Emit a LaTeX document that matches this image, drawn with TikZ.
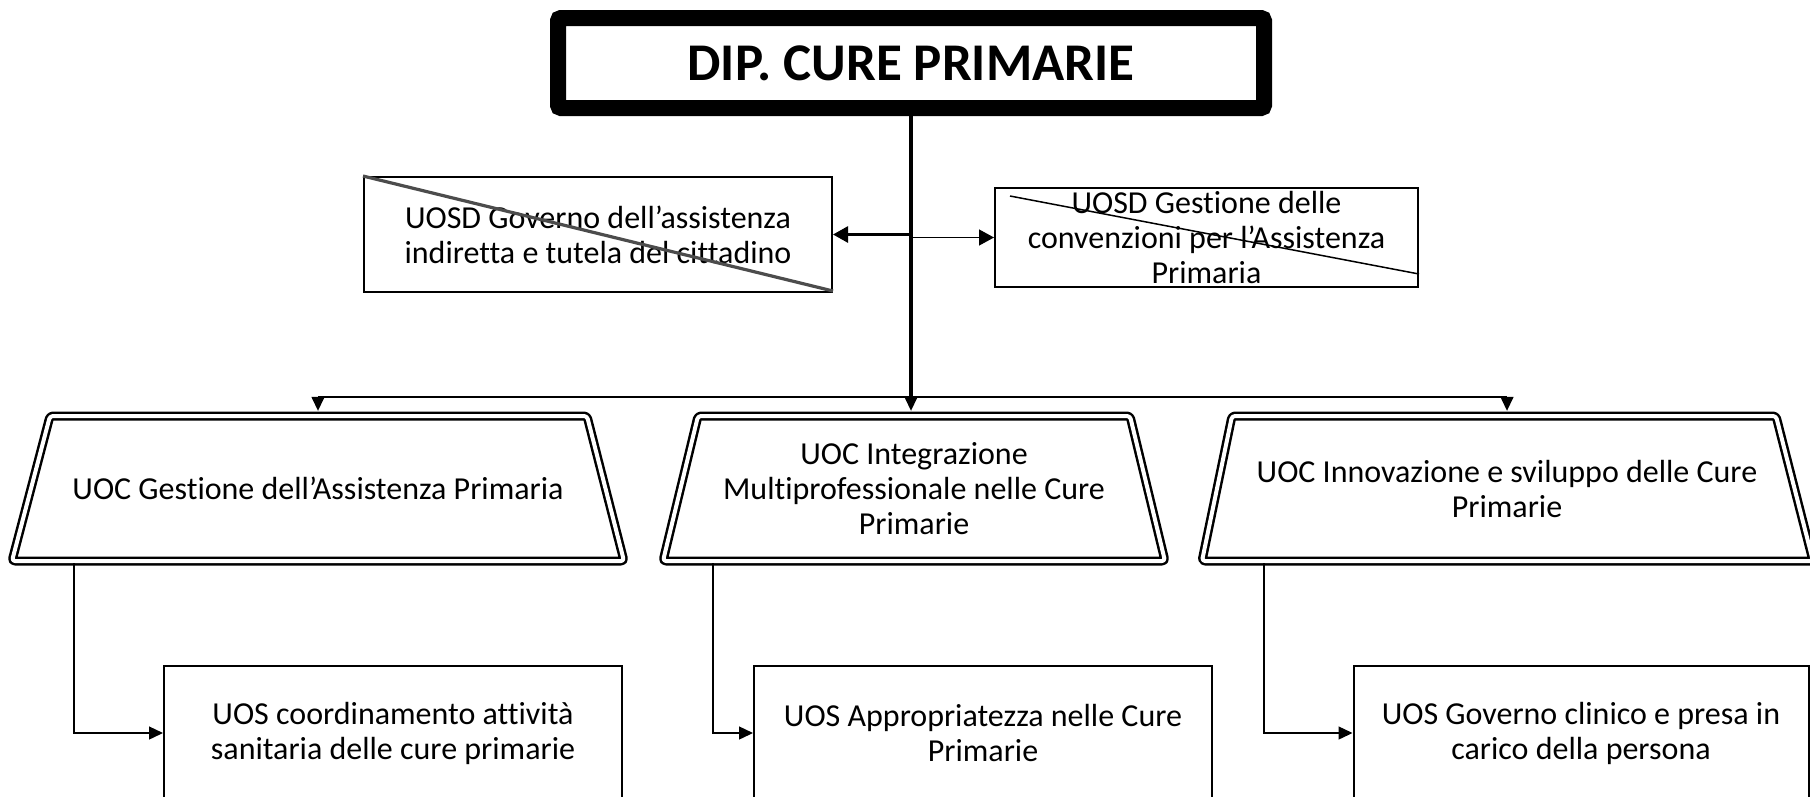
\documentclass[tikz,border=0pt]{standalone}
\usepackage{fontspec}
\setmainfont{Carlito}[Ligatures={NoCommon}]
\usetikzlibrary{arrows.meta,calc}
\begin{document}
\begin{tikzpicture}[x=1pt,y=-1pt,
  boxtxt/.style={font=\fontsize{32}{35}\selectfont, align=center},
  plainbox/.style={boxtxt, draw, line width=2pt, inner sep=0pt},
  traptext/.style={boxtxt, inner sep=0pt, minimum height=155pt},
  dbl/.style={draw, double, double distance=4pt, line width=2.5pt, rounded corners=3pt, line join=round},
  conn/.style={line width=1.4pt, -{Triangle[length=14pt,width=13pt]}},
  heavy/.style={line width=2.8pt, -{Triangle[length=15pt,width=16pt]}},
  light/.style={line width=1.3pt, -{Triangle[length=15pt,width=16pt]}}
]
\useasboundingbox (0,0) rectangle (1810,796);
\clip (0,0) rectangle (1810,796);

% title
\node[draw, line width=16pt, rounded corners=3pt, minimum width=706pt, minimum height=90pt,
      inner sep=0pt, font=\fontsize{53}{60}\selectfont\bfseries] (dip) at (911,63) {DIP. CURE PRIMARIE};

% staff boxes
\node[plainbox, minimum width=468pt, minimum height=115pt] (gov) at (598,234.5)
  {UOSD Governo dell’assistenza\\indiretta e tutela del cittadino};
\draw[line width=3.2pt, black!70] (gov.north west) -- ($(gov.south east)+(0,-2)$);

\node[plainbox, minimum width=423pt, minimum height=99pt] (ges) at (1206.5,237.5)
  {UOSD Gestione delle\\convenzioni per l’Assistenza\\Primaria};
\draw[line width=1.5pt] ($(ges.north west)+(16,9)$) -- ($(ges.south east)+(0,-14)$);

% trapezoid outlines
\draw[dbl] (50,416) -- (587,416) -- (624,561) -- (12,561) -- cycle;
\draw[dbl] (698,416) -- (1130,416) -- (1165,561) -- (663,561) -- cycle;
\draw[dbl] (1232,416) -- (1776,416) -- (1813,561) -- (1202,561) -- cycle;

% trapezoid texts
\node[traptext, minimum width=500pt] (uoc1) at (318,488.5) {UOC Gestione dell’Assistenza Primaria};
\node[traptext, minimum width=420pt] (uoc2) at (914,488.5) {UOC Integrazione\\Multiprofessionale nelle Cure\\Primarie};
\node[traptext, minimum width=500pt] (uoc3) at (1507,488.5) {UOC Innovazione e sviluppo delle Cure\\Primarie};

% bottom boxes
\node[plainbox, minimum width=458pt, minimum height=134pt] (uos1) at (393,733)
  {UOS coordinamento attività\\sanitaria delle cure primarie};
\node[plainbox, minimum width=458pt, minimum height=134pt] (uos2) at (983,733)
  {UOS Appropriatezza nelle Cure\\Primarie};
\node[plainbox, minimum width=455pt, minimum height=134pt] (uos3) at (1581,733)
  {UOS Governo clinico e presa in\\carico della persona};

% connectors
\coordinate (barL) at (318,397);
\coordinate (barM) at (911,397);
\coordinate (barR) at (1507,397);
\coordinate (jL) at (911,234.5);
\coordinate (jR) at (911,237.5);

\draw[line width=3.3pt] (dip.south) -- (barM);
\draw[heavy] (jL) -- (gov.east);
\draw[light] (jR) -- (ges.west);
\draw[line width=1.5pt] (barL) -- (barR);
\draw[conn] (barL) -- (uoc1.north);
\draw[conn] (barM) -- (barM |- uoc2.north);
\draw[conn] (barR) -- (uoc3.north);

\coordinate (s1) at (74,563);
\coordinate (s2) at (713,563);
\coordinate (s3) at (1264,563);
\draw[conn] (s1) |- (uos1.west);
\draw[conn] (s2) |- (uos2.west);
\draw[conn] (s3) |- (uos3.west);
\end{tikzpicture}
\end{document}
